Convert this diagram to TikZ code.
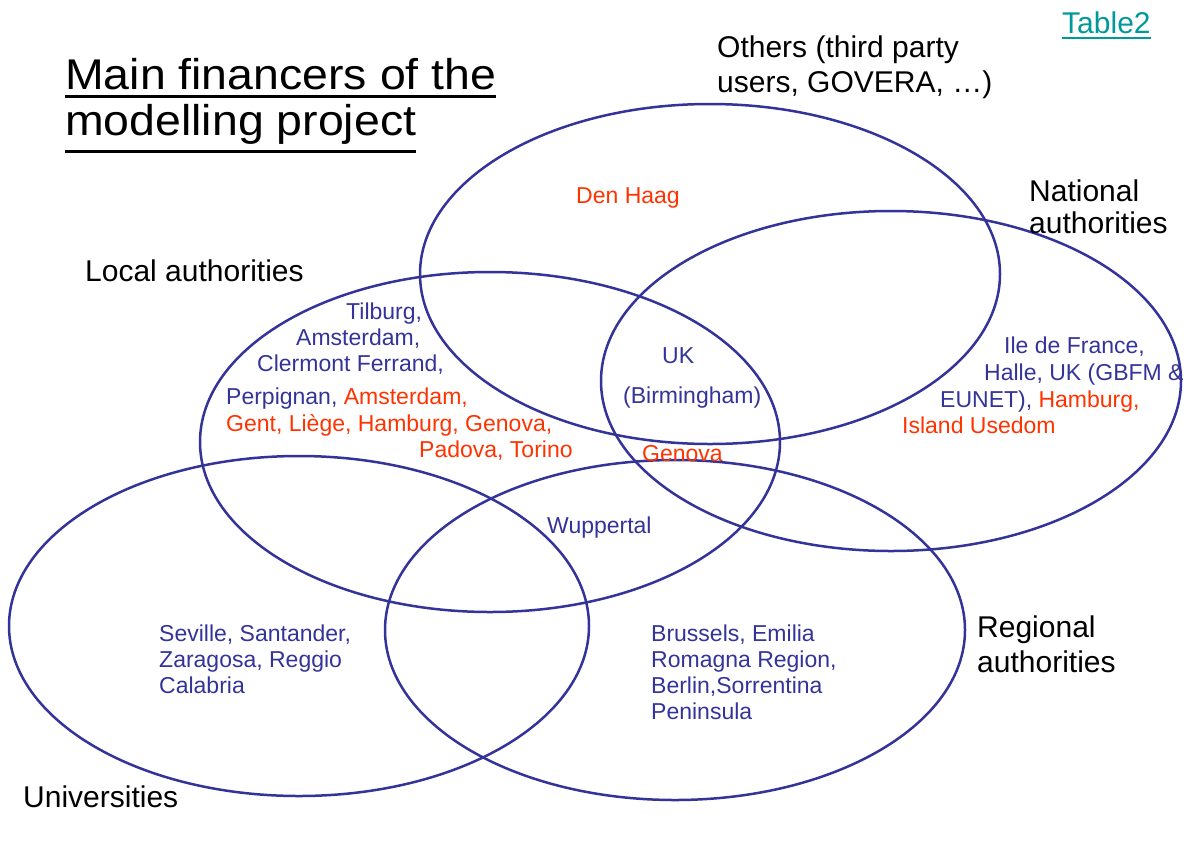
\documentclass[tikz,border=0pt]{standalone}
\usepackage{fontspec}
\setmainfont{Liberation Sans}
\newfontfamily\titlefont[FakeStretch=1.08]{Liberation Sans}
\usetikzlibrary{shapes.geometric}
\definecolor{vblue}{HTML}{333399}
\definecolor{vred}{HTML}{FF3300}
\definecolor{vteal}{HTML}{009999}
\tikzset{
  venn/.style={ellipse, draw=vblue, line width=2.5pt, minimum width=580pt, minimum height=340pt, inner sep=0pt},
  lbl/.style={anchor=base west, inner sep=0pt, text=black, font=\fontsize{30}{35}\selectfont},
  ttl/.style={anchor=base west, inner sep=0pt, text=black, font=\titlefont\fontsize{43}{44}\selectfont},
  inb/.style={anchor=base west, inner sep=0pt, text=vblue, font=\fontsize{23}{26}\selectfont},
  inr/.style={anchor=base west, inner sep=0pt, text=vred, font=\fontsize{23}{26}\selectfont},
  uline/.style={line width=3pt}
}
\begin{document}
\begin{tikzpicture}[x=1pt,y=-1pt]
\useasboundingbox (0,0) rectangle (1202,847);
% ellipses
\node[venn] (others) at (710,274) {};
\node[venn] (national) at (891,381) {};
\node[venn] (local) at (490,442) {};
\node[venn] (univ) at (299,626) {};
\node[venn] (regional) at (675,630) {};
% title
\node[ttl] (t1) at (65,89.5) {Main financers of the};
\node[ttl] (t2) at (65,135.5) {modelling project};
\draw[uline] ([yshift=-7pt]t1.base west) -- ([yshift=-7pt]t1.base east);
\draw[uline] ([yshift=-16pt]t2.base west) -- ([yshift=-16pt]t2.base east);
% table link
\node[lbl, text=vteal] (tab) at (1062,33) {Table2};
\draw[vteal, line width=1.5pt] ([yshift=-5pt]tab.base west) -- ([yshift=-5pt]tab.base east);
% category labels
\node[lbl] (oth1) at (717,57) {Others (third party};
\node[lbl] (oth2) at (717,92) {users, GOVERA, …)};
\node[lbl] (nat1) at (1029,201) {National};
\node[lbl] (nat2) at (1029,233) {authorities};
\node[lbl] (loc) at (85,281) {Local authorities};
\node[lbl] (reg1) at (977,637) {Regional};
\node[lbl] (reg2) at (977,672) {authorities};
\node[lbl] (uni) at (23,807) {Universities};
% inner texts
\node[inr] (denhaag) at (576,203) {Den Haag};
\node[inb] (l1) at (346,319) {Tilburg,};
\node[inb] (l2) at (296,345) {Amsterdam,};
\node[inb] (l3) at (257,371) {Clermont Ferrand,};
\node[inb] (l4) at (226,404) {Perpignan, \textcolor{vred}{Amsterdam,}};
\node[inr] (l5) at (226,431) {Gent, Liège, Hamburg, Genova,};
\node[inr] (l6) at (419,457) {Padova, Torino};
\node[inb] (uk1) at (662,363) {UK};
\node[inb] (uk2) at (623,403) {(Birmingham)};
\node[inr] (genova) at (642,461) {Genova};
\node[inb] (n1) at (1004,353) {Ile de France,};
\node[inb] (n2) at (984,380) {Halle, UK (GBFM \&};
\node[inb] (n3) at (940,407) {EUNET), \textcolor{vred}{Hamburg,}};
\node[inr] (n4) at (902,433) {Island Usedom};
\node[inb] (wup) at (547,533) {Wuppertal};
\node[inb] (u1) at (159,641) {Seville, Santander,};
\node[inb] (u2) at (159,667) {Zaragosa, Reggio};
\node[inb] (u3) at (159,693) {Calabria};
\node[inb] (r1) at (651,641) {Brussels, Emilia};
\node[inb] (r2) at (651,667) {Romagna Region,};
\node[inb] (r3) at (651,693) {Berlin,Sorrentina};
\node[inb] (r4) at (651,719) {Peninsula};
\end{tikzpicture}
\end{document}
